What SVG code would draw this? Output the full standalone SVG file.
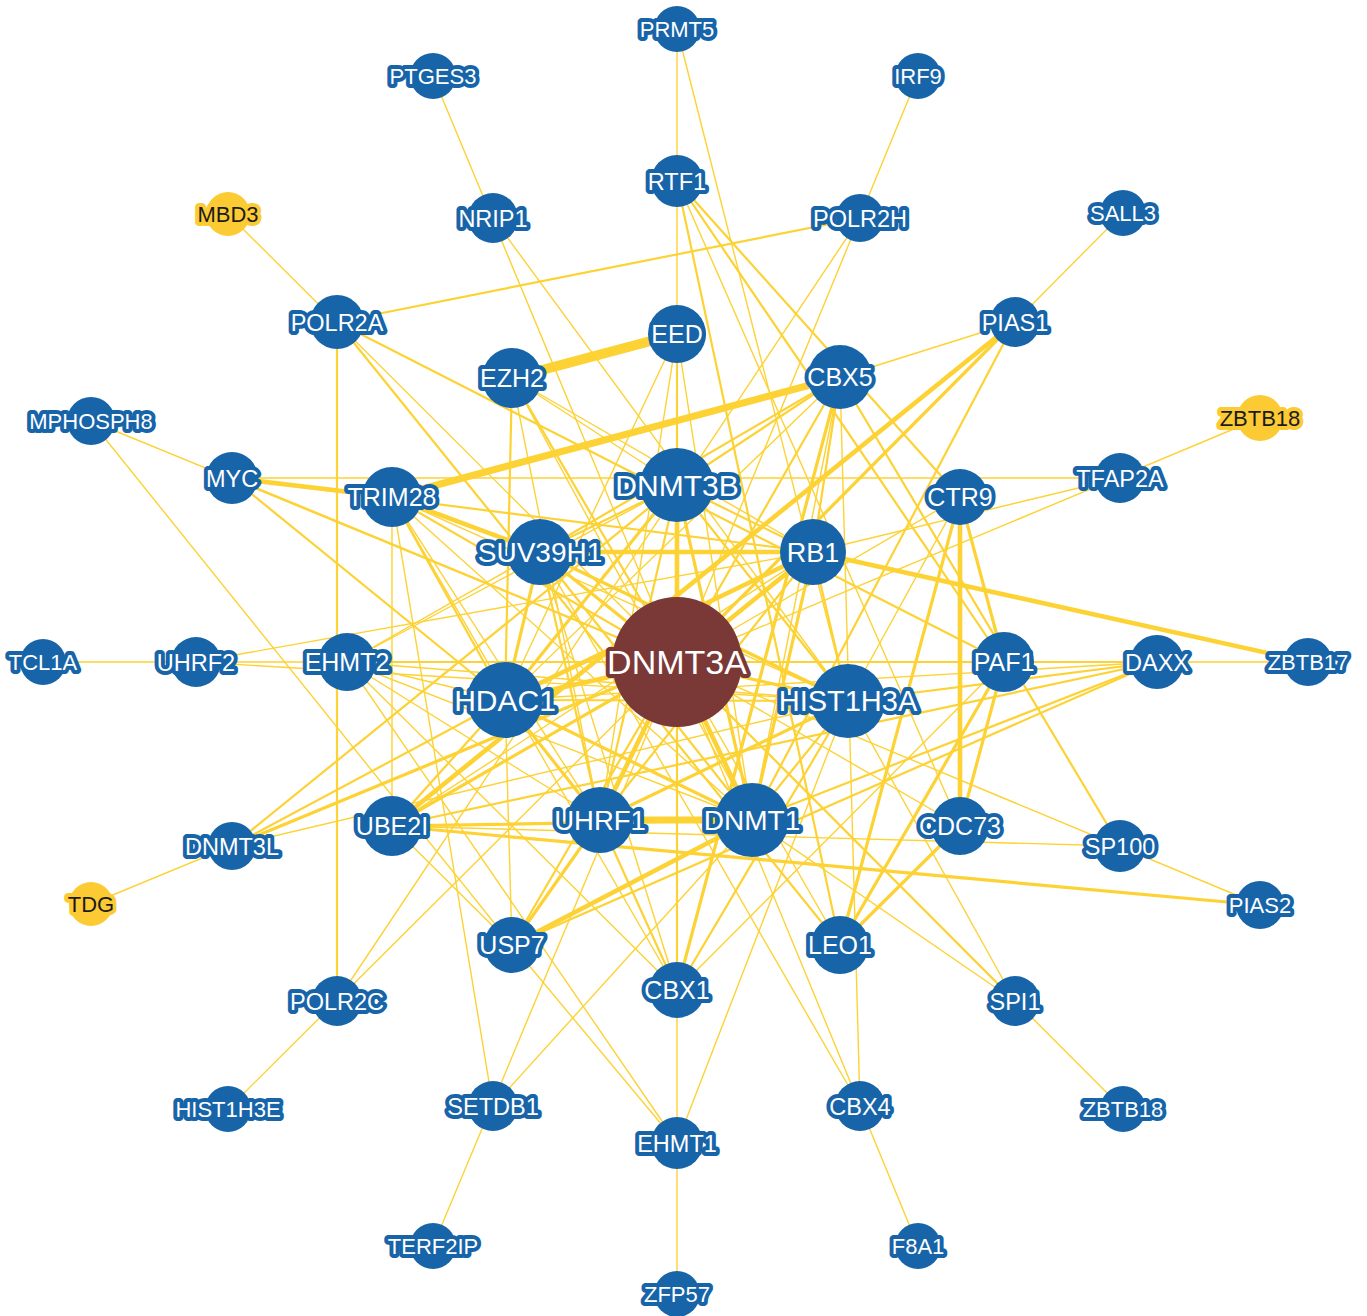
<svg xmlns="http://www.w3.org/2000/svg" width="1367" height="1316" viewBox="0 0 1367 1316">
<style>
.bg{fill:#ffffff}
#edges line{stroke:#fdd235;stroke-linecap:round}
.e1{stroke-width:1.4}
.e2{stroke-width:2.2}
.e3{stroke-width:3.2}
.e4{stroke-width:4.6}
.e6{stroke-width:7}
.e9{stroke-width:10}
.nb{fill:#1764a9}
.ny{fill:#fcca33}
.nr{fill:#7a3937}
text{font-family:"Liberation Sans",Arial,sans-serif;text-anchor:middle;paint-order:stroke;stroke-linejoin:round;stroke-width:8}
.lb{fill:#ffffff;stroke:#1764a9}
.ly{fill:#1b1b1b;stroke:#fcca33}
.lr{fill:#ffffff;stroke:#7a3937}
.f0{font-size:22px}
.f1{font-size:23.5px}
.f2{font-size:25px}
.f3{font-size:28.5px}
.f4{font-size:34px}
</style>
<rect class="bg" x="0" y="0" width="1367" height="1316"/>
<g id="edges">
<!-- radial edges to DNMT3A -->
<line class="e1" x1="677" y1="29" x2="677" y2="662"/>
<line class="e1" x1="433" y1="76" x2="677" y2="662"/>
<line class="e1" x1="918" y1="76" x2="677" y2="662"/>
<line class="e1" x1="228" y1="214" x2="677" y2="662"/>
<line class="e1" x1="1123" y1="213" x2="677" y2="662"/>
<line class="e1" x1="91" y1="421" x2="677" y2="662"/>
<line class="e1" x1="1260" y1="418" x2="677" y2="662"/>
<line class="e1" x1="43" y1="662" x2="677" y2="662"/>
<line class="e1" x1="1308" y1="662" x2="677" y2="662"/>
<line class="e1" x1="91" y1="904" x2="677" y2="662"/>
<line class="e1" x1="1260" y1="905" x2="677" y2="662"/>
<line class="e1" x1="228" y1="1109" x2="677" y2="662"/>
<line class="e1" x1="1123" y1="1109" x2="677" y2="662"/>
<line class="e1" x1="433" y1="1246" x2="677" y2="662"/>
<line class="e1" x1="918" y1="1246" x2="677" y2="662"/>
<line class="e1" x1="677" y1="1294" x2="677" y2="662"/>
<line class="e3" x1="1015" y1="322" x2="677" y2="662"/>
<line class="e2" x1="232" y1="478" x2="677" y2="662"/>
<line class="e2" x1="1157" y1="662" x2="677" y2="662"/>
<line class="e3" x1="232" y1="846" x2="677" y2="662"/>
<line class="e2" x1="1015" y1="1001" x2="677" y2="662"/>
<line class="e2" x1="677" y1="334" x2="677" y2="662"/>
<line class="e2" x1="512" y1="378" x2="677" y2="662"/>
<line class="e2" x1="840" y1="377" x2="677" y2="662"/>
<line class="e2" x1="392" y1="497" x2="677" y2="662"/>
<line class="e1" x1="960" y1="497" x2="677" y2="662"/>
<line class="e2" x1="347" y1="662" x2="677" y2="662"/>
<line class="e3" x1="392" y1="826" x2="677" y2="662"/>
<line class="e1" x1="960" y1="826" x2="677" y2="662"/>
<line class="e2" x1="512" y1="945" x2="677" y2="662"/>
<line class="e1" x1="840" y1="945" x2="677" y2="662"/>
<line class="e2" x1="677" y1="990" x2="677" y2="662"/>
<line class="e4" x1="677" y1="485" x2="677" y2="662"/>
<line class="e3" x1="540" y1="552" x2="677" y2="662"/>
<line class="e4" x1="813" y1="552" x2="677" y2="662"/>
<line class="e4" x1="505" y1="700" x2="677" y2="662"/>
<line class="e3" x1="848" y1="701" x2="677" y2="662"/>
<line class="e4" x1="600" y1="820" x2="677" y2="662"/>
<line class="e4" x1="752" y1="820" x2="677" y2="662"/>
<!-- innermost clique -->
<line class="e2" x1="677" y1="485" x2="540" y2="552"/>
<line class="e2" x1="677" y1="485" x2="813" y2="552"/>
<line class="e3" x1="677" y1="485" x2="505" y2="700"/>
<line class="e2" x1="677" y1="485" x2="848" y2="701"/>
<line class="e2" x1="677" y1="485" x2="600" y2="820"/>
<line class="e3" x1="677" y1="485" x2="752" y2="820"/>
<line class="e4" x1="540" y1="552" x2="813" y2="552"/>
<line class="e3" x1="540" y1="552" x2="505" y2="700"/>
<line class="e3" x1="540" y1="552" x2="848" y2="701"/>
<line class="e2" x1="540" y1="552" x2="600" y2="820"/>
<line class="e2" x1="540" y1="552" x2="752" y2="820"/>
<line class="e4" x1="813" y1="552" x2="505" y2="700"/>
<line class="e2" x1="813" y1="552" x2="848" y2="701"/>
<line class="e2" x1="813" y1="552" x2="600" y2="820"/>
<line class="e3" x1="813" y1="552" x2="752" y2="820"/>
<line class="e2" x1="505" y1="700" x2="848" y2="701"/>
<line class="e3" x1="505" y1="700" x2="600" y2="820"/>
<line class="e3" x1="505" y1="700" x2="752" y2="820"/>
<line class="e3" x1="848" y1="701" x2="600" y2="820"/>
<line class="e2" x1="848" y1="701" x2="752" y2="820"/>
<line class="e6" x1="600" y1="820" x2="752" y2="820"/>
<!-- EED / EZH2 -->
<line class="e9" x1="677" y1="334" x2="512" y2="378"/>
<line class="e1" x1="677" y1="334" x2="505" y2="700"/>
<line class="e1" x1="677" y1="334" x2="600" y2="820"/>
<line class="e1" x1="677" y1="334" x2="752" y2="820"/>
<line class="e2" x1="512" y1="378" x2="505" y2="700"/>
<line class="e1" x1="512" y1="378" x2="600" y2="820"/>
<line class="e1" x1="512" y1="378" x2="752" y2="820"/>
<line class="e1" x1="512" y1="378" x2="677" y2="485"/>
<line class="e1" x1="512" y1="378" x2="813" y2="552"/>
<!-- CBX5 -->
<line class="e6" x1="840" y1="377" x2="392" y2="497"/>
<line class="e1" x1="840" y1="377" x2="1015" y2="322"/>
<line class="e2" x1="840" y1="377" x2="1120" y2="846"/>
<line class="e3" x1="840" y1="377" x2="677" y2="990"/>
<line class="e1" x1="840" y1="377" x2="860" y2="1106"/>
<line class="e2" x1="840" y1="377" x2="813" y2="552"/>
<line class="e2" x1="840" y1="377" x2="677" y2="485"/>
<line class="e2" x1="840" y1="377" x2="540" y2="552"/>
<line class="e1" x1="840" y1="377" x2="752" y2="820"/>
<line class="e1" x1="840" y1="377" x2="505" y2="700"/>
<!-- PAF complex -->
<line class="e3" x1="960" y1="497" x2="1004" y2="662"/>
<line class="e4" x1="960" y1="497" x2="960" y2="826"/>
<line class="e3" x1="960" y1="497" x2="840" y2="945"/>
<line class="e2" x1="960" y1="497" x2="677" y2="181"/>
<line class="e1" x1="960" y1="497" x2="848" y2="701"/>
<line class="e3" x1="1004" y1="662" x2="960" y2="826"/>
<line class="e3" x1="1004" y1="662" x2="840" y2="945"/>
<line class="e2" x1="1004" y1="662" x2="677" y2="181"/>
<line class="e2" x1="1004" y1="662" x2="337" y2="322"/>
<line class="e1" x1="1004" y1="662" x2="677" y2="990"/>
<line class="e3" x1="960" y1="826" x2="840" y2="945"/>
<line class="e1" x1="960" y1="826" x2="677" y2="181"/>
<line class="e2" x1="840" y1="945" x2="677" y2="181"/>
<line class="e2" x1="840" y1="945" x2="337" y2="322"/>
<!-- CBX1 -->
<line class="e2" x1="677" y1="990" x2="600" y2="820"/>
<line class="e1" x1="677" y1="990" x2="540" y2="552"/>
<line class="e2" x1="677" y1="990" x2="848" y2="701"/>
<line class="e1" x1="677" y1="990" x2="392" y2="497"/>
<line class="e1" x1="677" y1="990" x2="347" y2="662"/>
<!-- USP7 -->
<line class="e4" x1="512" y1="945" x2="752" y2="820"/>
<line class="e3" x1="512" y1="945" x2="600" y2="820"/>
<line class="e2" x1="512" y1="945" x2="1157" y2="662"/>
<line class="e1" x1="512" y1="945" x2="91" y2="421"/>
<line class="e1" x1="512" y1="945" x2="392" y2="826"/>
<line class="e1" x1="512" y1="945" x2="677" y2="1143"/>
<line class="e1" x1="512" y1="945" x2="505" y2="700"/>
<!-- UBE2I -->
<line class="e4" x1="392" y1="826" x2="1015" y2="322"/>
<line class="e3" x1="392" y1="826" x2="1260" y2="905"/>
<line class="e2" x1="392" y1="826" x2="1157" y2="662"/>
<line class="e1" x1="392" y1="826" x2="1120" y2="846"/>
<line class="e3" x1="392" y1="826" x2="752" y2="820"/>
<line class="e1" x1="392" y1="826" x2="392" y2="497"/>
<line class="e2" x1="392" y1="826" x2="505" y2="700"/>
<line class="e1" x1="392" y1="826" x2="813" y2="552"/>
<!-- EHMT2 -->
<line class="e1" x1="347" y1="662" x2="848" y2="701"/>
<line class="e1" x1="347" y1="662" x2="752" y2="820"/>
<line class="e1" x1="347" y1="662" x2="677" y2="1143"/>
<line class="e1" x1="347" y1="662" x2="600" y2="820"/>
<line class="e1" x1="347" y1="662" x2="505" y2="700"/>
<line class="e1" x1="347" y1="662" x2="540" y2="552"/>
<line class="e1" x1="347" y1="662" x2="677" y2="485"/>
<!-- TRIM28 -->
<line class="e4" x1="392" y1="497" x2="232" y2="478"/>
<line class="e4" x1="392" y1="497" x2="540" y2="552"/>
<line class="e1" x1="392" y1="497" x2="493" y2="1106"/>
<line class="e1" x1="392" y1="497" x2="752" y2="820"/>
<line class="e1" x1="392" y1="497" x2="600" y2="820"/>
<line class="e2" x1="392" y1="497" x2="505" y2="700"/>
<line class="e1" x1="392" y1="497" x2="848" y2="701"/>
<!-- middle ring extras -->
<line class="e1" x1="677" y1="29" x2="848" y2="701"/>
<line class="e1" x1="493" y1="218" x2="848" y2="701"/>
<line class="e2" x1="860" y1="218" x2="337" y2="322"/>
<line class="e1" x1="860" y1="218" x2="337" y2="1001"/>
<line class="e2" x1="337" y1="322" x2="337" y2="1001"/>
<line class="e2" x1="1015" y1="322" x2="752" y2="820"/>
<line class="e1" x1="232" y1="478" x2="1120" y2="478"/>
<line class="e2" x1="232" y1="478" x2="505" y2="700"/>
<line class="e2" x1="232" y1="478" x2="813" y2="552"/>
<line class="e1" x1="1120" y1="478" x2="813" y2="552"/>
<line class="e1" x1="196" y1="662" x2="813" y2="552"/>
<line class="e1" x1="196" y1="662" x2="848" y2="701"/>
<line class="e2" x1="1157" y1="662" x2="752" y2="820"/>
<line class="e2" x1="1157" y1="662" x2="848" y2="701"/>
<line class="e1" x1="1157" y1="662" x2="505" y2="700"/>
<line class="e2" x1="232" y1="846" x2="677" y2="485"/>
<line class="e2" x1="232" y1="846" x2="505" y2="700"/>
<line class="e1" x1="232" y1="846" x2="848" y2="701"/>
<line class="e1" x1="1015" y1="1001" x2="752" y2="820"/>
<line class="e1" x1="1015" y1="1001" x2="848" y2="701"/>
<line class="e1" x1="493" y1="1106" x2="752" y2="820"/>
<line class="e1" x1="860" y1="1106" x2="540" y2="552"/>
<line class="e1" x1="677" y1="1143" x2="848" y2="701"/>
<line class="e4" x1="1308" y1="662" x2="813" y2="552"/>
</g>
<g id="nodes">
<g id="n-PRMT5"><circle class="nb" cx="677" cy="29" r="23"/><text class="lb f0" x="677" y="37">PRMT5</text></g>
<g id="n-PTGES3"><circle class="nb" cx="433" cy="76" r="23"/><text class="lb f0" x="433" y="84">PTGES3</text></g>
<g id="n-IRF9"><circle class="nb" cx="918" cy="76" r="23"/><text class="lb f0" x="918" y="84">IRF9</text></g>
<g id="n-MBD3"><circle class="ny" cx="228" cy="214" r="22"/><text class="ly f0" x="228" y="222">MBD3</text></g>
<g id="n-SALL3"><circle class="nb" cx="1123" cy="213" r="23"/><text class="lb f0" x="1123" y="221">SALL3</text></g>
<g id="n-MPHOSPH8"><circle class="nb" cx="91" cy="421" r="24"/><text class="lb f0" x="91" y="429">MPHOSPH8</text></g>
<g id="n-ZBTB18y"><circle class="ny" cx="1260" cy="418" r="23"/><text class="ly f0" x="1260" y="426">ZBTB18</text></g>
<g id="n-TCL1A"><circle class="nb" cx="43" cy="662" r="23"/><text class="lb f0" x="43" y="670">TCL1A</text></g>
<g id="n-ZBTB17"><circle class="nb" cx="1308" cy="662" r="24"/><text class="lb f0" x="1308" y="670">ZBTB17</text></g>
<g id="n-TDG"><circle class="ny" cx="91" cy="904" r="22"/><text class="ly f0" x="91" y="912">TDG</text></g>
<g id="n-PIAS2"><circle class="nb" cx="1260" cy="905" r="24"/><text class="lb f0" x="1260" y="913">PIAS2</text></g>
<g id="n-HIST1H3E"><circle class="nb" cx="228" cy="1109" r="23"/><text class="lb f0" x="228" y="1117">HIST1H3E</text></g>
<g id="n-ZBTB18b"><circle class="nb" cx="1123" cy="1109" r="23"/><text class="lb f0" x="1123" y="1117">ZBTB18</text></g>
<g id="n-TERF2IP"><circle class="nb" cx="433" cy="1246" r="23"/><text class="lb f0" x="433" y="1254">TERF2IP</text></g>
<g id="n-F8A1"><circle class="nb" cx="918" cy="1246" r="23"/><text class="lb f0" x="918" y="1254">F8A1</text></g>
<g id="n-ZFP57"><circle class="nb" cx="677" cy="1294" r="23"/><text class="lb f0" x="677" y="1302">ZFP57</text></g>

<g id="n-RTF1"><circle class="nb" cx="677" cy="181" r="26"/><text class="lb f1" x="677" y="189.5">RTF1</text></g>
<g id="n-NRIP1"><circle class="nb" cx="493" cy="218" r="25"/><text class="lb f1" x="493" y="226.5">NRIP1</text></g>
<g id="n-POLR2H"><circle class="nb" cx="860" cy="218" r="24"/><text class="lb f1" x="860" y="226.5">POLR2H</text></g>
<g id="n-POLR2A"><circle class="nb" cx="337" cy="322" r="27"/><text class="lb f1" x="337" y="330.5">POLR2A</text></g>
<g id="n-PIAS1"><circle class="nb" cx="1015" cy="322" r="25"/><text class="lb f1" x="1015" y="330.5">PIAS1</text></g>
<g id="n-MYC"><circle class="nb" cx="232" cy="478" r="26"/><text class="lb f1" x="232" y="486.5">MYC</text></g>
<g id="n-TFAP2A"><circle class="nb" cx="1120" cy="478" r="25"/><text class="lb f1" x="1120" y="486.5">TFAP2A</text></g>
<g id="n-UHRF2"><circle class="nb" cx="196" cy="662" r="25"/><text class="lb f1" x="196" y="670.5">UHRF2</text></g>
<g id="n-DAXX"><circle class="nb" cx="1157" cy="662" r="27"/><text class="lb f1" x="1157" y="670.5">DAXX</text></g>
<g id="n-DNMT3L"><circle class="nb" cx="232" cy="846" r="24"/><text class="lb f1" x="232" y="854.5">DNMT3L</text></g>
<g id="n-SP100"><circle class="nb" cx="1120" cy="846" r="26"/><text class="lb f1" x="1120" y="854.5">SP100</text></g>
<g id="n-POLR2C"><circle class="nb" cx="337" cy="1001" r="25"/><text class="lb f1" x="337" y="1009.5">POLR2C</text></g>
<g id="n-SPI1"><circle class="nb" cx="1015" cy="1001" r="25"/><text class="lb f1" x="1015" y="1009.5">SPI1</text></g>
<g id="n-SETDB1"><circle class="nb" cx="493" cy="1106" r="25"/><text class="lb f1" x="493" y="1114.5">SETDB1</text></g>
<g id="n-CBX4"><circle class="nb" cx="860" cy="1106" r="25"/><text class="lb f1" x="860" y="1114.5">CBX4</text></g>
<g id="n-EHMT1"><circle class="nb" cx="677" cy="1143" r="26"/><text class="lb f1" x="677" y="1151.5">EHMT1</text></g>

<g id="n-EED"><circle class="nb" cx="677" cy="334" r="29"/><text class="lb f2" x="677" y="343">EED</text></g>
<g id="n-EZH2"><circle class="nb" cx="512" cy="378" r="30"/><text class="lb f2" x="512" y="387">EZH2</text></g>
<g id="n-CBX5"><circle class="nb" cx="840" cy="377" r="32"/><text class="lb f2" x="840" y="386">CBX5</text></g>
<g id="n-TRIM28"><circle class="nb" cx="392" cy="497" r="30"/><text class="lb f2" x="392" y="506">TRIM28</text></g>
<g id="n-CTR9"><circle class="nb" cx="960" cy="497" r="28"/><text class="lb f2" x="960" y="506">CTR9</text></g>
<g id="n-EHMT2"><circle class="nb" cx="347" cy="662" r="29"/><text class="lb f2" x="347" y="671">EHMT2</text></g>
<g id="n-PAF1"><circle class="nb" cx="1004" cy="662" r="30"/><text class="lb f2" x="1004" y="671">PAF1</text></g>
<g id="n-UBE2I"><circle class="nb" cx="392" cy="826" r="30"/><text class="lb f2" x="392" y="835">UBE2I</text></g>
<g id="n-CDC73"><circle class="nb" cx="960" cy="826" r="29"/><text class="lb f2" x="960" y="835">CDC73</text></g>
<g id="n-USP7"><circle class="nb" cx="512" cy="945" r="28"/><text class="lb f2" x="512" y="954">USP7</text></g>
<g id="n-LEO1"><circle class="nb" cx="840" cy="945" r="29"/><text class="lb f2" x="840" y="954">LEO1</text></g>
<g id="n-CBX1"><circle class="nb" cx="677" cy="990" r="28"/><text class="lb f2" x="677" y="999">CBX1</text></g>

<g id="n-DNMT3B"><circle class="nb" cx="677" cy="485" r="37"/><text class="lb" style="font-size:30px" x="677" y="495.5">DNMT3B</text></g>
<g id="n-SUV39H1"><circle class="nb" cx="540" cy="552" r="33"/><text class="lb" style="font-size:28px" x="540" y="562">SUV39H1</text></g>
<g id="n-RB1"><circle class="nb" cx="813" cy="552" r="33"/><text class="lb" style="font-size:27px" x="813" y="561.5">RB1</text></g>
<g id="n-HDAC1"><circle class="nb" cx="505" cy="700" r="38"/><text class="lb" style="font-size:30px" x="505" y="710.5">HDAC1</text></g>
<g id="n-HIST1H3A"><circle class="nb" cx="848" cy="701" r="37"/><text class="lb" style="font-size:29px" x="848" y="711">HIST1H3A</text></g>
<g id="n-UHRF1"><circle class="nb" cx="600" cy="820" r="33"/><text class="lb" style="font-size:27.5px" x="600" y="830">UHRF1</text></g>
<g id="n-DNMT1"><circle class="nb" cx="752" cy="820" r="37"/><text class="lb" style="font-size:28px" x="752" y="830">DNMT1</text></g>

<g id="n-DNMT3A"><circle class="nr" cx="677" cy="662" r="65"/><text class="lr f4" x="677" y="674">DNMT3A</text></g>
</g>
</svg>
